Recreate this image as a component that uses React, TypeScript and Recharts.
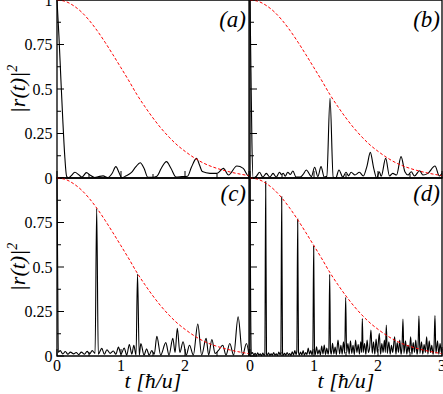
import React from "react";
import { LineChart, Line, XAxis, YAxis, ReferenceArea } from "recharts";

// time axis ticks (units of hbar/u) and |r(t)|^2 ticks
const T_TICKS = [0, 0.5, 1, 1.5, 2, 2.5, 3];
const R_TICKS = [0, 0.125, 0.25, 0.375, 0.5, 0.625, 0.75, 0.875, 1];
const R_TEXT: Record<string, string> = { "0": "0", "0.25": "0.25", "0.5": "0.5", "0.75": "0.75", "1": "1" };

// red dashed envelope
const ENV_T = [0, 0.125, 0.25, 0.375, 0.5, 0.625, 0.75, 0.875, 1, 1.125, 1.25, 1.375, 1.5,
  1.625, 1.75, 1.875, 2, 2.125, 2.25, 2.375, 2.5, 2.625, 2.75, 2.875, 3];
const ENV_R = [1, 0.993, 0.97, 0.935, 0.887, 0.829, 0.763, 0.692, 0.619, 0.545, 0.468, 0.4, 0.337,
  0.28, 0.23, 0.186, 0.15, 0.118, 0.091, 0.07, 0.054, 0.041, 0.03, 0.021, 0.013];

// [t, |r(t)|^2]
const PANEL_A: [number, number][] = [
  [0, 1], [0.03, 0.8], [0.06, 0.56], [0.09, 0.33], [0.12, 0.13], [0.15, 0.01], [0.18, 0], [0.22, 0.012],
  [0.28, 0.032], [0.34, 0.018], [0.39, 0.005], [0.46, 0.03], [0.52, 0.016], [0.59, 0.003], [0.65, 0.008],
  [0.72, 0.012], [0.79, 0.002], [0.86, 0.025], [0.92, 0.064], [0.97, 0.03], [1.01, 0.002], [1.08, 0.012],
  [1.16, 0.03], [1.23, 0.062], [1.3, 0.086], [1.36, 0.055], [1.42, 0.004], [1.5, 0.004], [1.56, 0.01],
  [1.63, 0.055], [1.71, 0.092], [1.78, 0.055], [1.86, 0.006], [1.95, 0.008], [2.04, 0.01], [2.1, 0.06],
  [2.18, 0.11], [2.23, 0.07], [2.27, 0.036], [2.39, 0.026], [2.5, 0.026], [2.6, 0.054], [2.68, 0.017],
  [2.81, 0.067], [2.91, 0.054], [2.99, 0.011], [3, 0.01],
];

const PANEL_B: [number, number][] = [
  [0, 1], [0.015, 0.6], [0.03, 0.2], [0.05, 0], [0.1, 0.01], [0.15, 0.032], [0.2, 0.005], [0.255, 0.026],
  [0.31, 0.005], [0.36, 0.026], [0.41, 0.005], [0.46, 0.032], [0.49, 0.02], [0.52, 0.026], [0.55, 0.01],
  [0.59, 0.032], [0.63, 0.02], [0.67, 0.039], [0.72, 0.005], [0.78, 0.005], [0.83, 0.02], [0.88, 0.045],
  [0.96, 0.008], [1.01, 0.06], [1.06, 0.008], [1.11, 0.064], [1.16, 0.005], [1.2, 0.01], [1.25, 0.448],
  [1.3, 0.005], [1.34, 0], [1.39, 0.045], [1.45, 0.005], [1.5, 0.032], [1.54, 0.012], [1.58, 0.032],
  [1.64, 0.017], [1.71, 0.032], [1.77, 0.011], [1.83, 0.07], [1.88, 0.144], [1.93, 0.06], [1.98, 0],
  [2.02, 0.035], [2.05, 0.01], [2.12, 0.11], [2.18, 0.011], [2.23, 0.026], [2.29, 0.017], [2.36, 0.12],
  [2.42, 0.035], [2.47, 0.017], [2.52, 0.035], [2.57, 0.011], [2.65, 0.041], [2.7, 0.017], [2.78, 0.026],
  [2.89, 0.067], [2.96, 0.011], [3, 0.026],
];

const PANEL_C: [number, number][] = [
  [0, 1], [0.01, 0.5], [0.02, 0.02], [0.05, 0.03], [0.09, 0.012], [0.13, 0.025], [0.17, 0.01], [0.21, 0.022],
  [0.26, 0.012], [0.3, 0.02], [0.34, 0.008], [0.38, 0.022], [0.43, 0.01], [0.47, 0.026], [0.51, 0.012],
  [0.55, 0.03], [0.595, 0.015], [0.62, 0.83], [0.645, 0.01], [0.7, 0.043], [0.74, 0.01], [0.78, 0.035],
  [0.83, 0.015], [0.88, 0.028], [0.92, 0.01], [0.96, 0.05], [1, 0.01], [1.05, 0.045], [1.09, 0.005],
  [1.13, 0.065], [1.17, 0.01], [1.2, 0.06], [1.235, 0.005], [1.258, 0.46], [1.285, 0.005], [1.31, 0.07],
  [1.36, 0.005], [1.4, 0.04], [1.44, 0.005], [1.48, 0.03], [1.52, 0.01], [1.56, 0.11], [1.62, 0.005],
  [1.7, 0.075], [1.75, 0.005], [1.81, 0.099], [1.845, 0.02], [1.88, 0.155], [1.92, 0.02], [1.97, 0.08],
  [2.02, 0.005], [2.07, 0.06], [2.13, 0.005], [2.2, 0.18], [2.26, 0.005], [2.33, 0.099], [2.37, 0.005],
  [2.42, 0.093], [2.47, 0.015], [2.52, 0.03], [2.59, 0.06], [2.64, 0.005], [2.7, 0.07], [2.76, 0.005],
  [2.83, 0.22], [2.9, 0.005], [2.96, 0.07], [3, 0.005],
];

const PANEL_D: [number, number][] = [
  [0, 1], [0.01, 0.3], [0.02, 0.01], [0.04, 0.02], [0.06, 0.004], [0.08, 0.015], [0.1, 0.003], [0.12, 0.018],
  [0.14, 0.005], [0.16, 0.012], [0.18, 0.002], [0.2, 0.016], [0.22, 0.004], [0.232, 0.01], [0.245, 0.98],
  [0.258, 0.01], [0.27, 0.004], [0.29, 0.018], [0.31, 0.003], [0.33, 0.013], [0.35, 0.005], [0.37, 0.02],
  [0.39, 0.004], [0.41, 0.012], [0.43, 0.003], [0.45, 0.022], [0.47, 0.006], [0.482, 0.02], [0.495, 0.895],
  [0.508, 0.02], [0.52, 0.004], [0.54, 0.015], [0.56, 0.004], [0.58, 0.02], [0.6, 0.006], [0.62, 0.014],
  [0.64, 0.003], [0.66, 0.024], [0.68, 0.006], [0.7, 0.03], [0.72, 0.008], [0.732, 0.03], [0.745, 0.77],
  [0.758, 0.02], [0.77, 0.005], [0.79, 0.022], [0.81, 0.006], [0.83, 0.03], [0.85, 0.004], [0.87, 0.02],
  [0.89, 0.008], [0.91, 0.045], [0.93, 0.01], [0.95, 0.03], [0.97, 0.006], [0.982, 0.04], [0.995, 0.618],
  [1.008, 0.03], [1.02, 0.008], [1.04, 0.052], [1.06, 0.01], [1.08, 0.035], [1.1, 0.006], [1.12, 0.056],
  [1.14, 0.012], [1.16, 0.062], [1.18, 0.008], [1.2, 0.045], [1.22, 0.01], [1.232, 0.04], [1.245, 0.459],
  [1.258, 0.03], [1.27, 0.01], [1.29, 0.071], [1.31, 0.012], [1.33, 0.05], [1.35, 0.008], [1.375, 0.09],
  [1.4, 0.012], [1.42, 0.06], [1.44, 0.01], [1.46, 0.08], [1.48, 0.015], [1.495, 0.33], [1.51, 0.02],
  [1.53, 0.07], [1.55, 0.01], [1.57, 0.085], [1.59, 0.015], [1.61, 0.06], [1.63, 0.008], [1.65, 0.09],
  [1.67, 0.02], [1.69, 0.065], [1.71, 0.01], [1.73, 0.08], [1.745, 0.02], [1.755, 0.21], [1.768, 0.02],
  [1.79, 0.07], [1.81, 0.01], [1.83, 0.09], [1.85, 0.02], [1.87, 0.05], [1.89, 0.146], [1.91, 0.015],
  [1.93, 0.08], [1.95, 0.01], [1.97, 0.095], [1.99, 0.02], [2.02, 0.127], [2.04, 0.01], [2.06, 0.07],
  [2.08, 0.02], [2.1, 0.09], [2.115, 0.02], [2.13, 0.174], [2.145, 0.015], [2.17, 0.08], [2.19, 0.01],
  [2.21, 0.06], [2.23, 0.02], [2.26, 0.108], [2.28, 0.01], [2.3, 0.075], [2.32, 0.02], [2.34, 0.09],
  [2.36, 0.01], [2.375, 0.05], [2.39, 0.208], [2.405, 0.015], [2.43, 0.085], [2.45, 0.01], [2.47, 0.06],
  [2.49, 0.02], [2.51, 0.108], [2.53, 0.01], [2.55, 0.075], [2.57, 0.02], [2.59, 0.09], [2.61, 0.01],
  [2.625, 0.05], [2.64, 0.225], [2.655, 0.015], [2.68, 0.08], [2.7, 0.01], [2.72, 0.065], [2.74, 0.02],
  [2.76, 0.108], [2.78, 0.01], [2.8, 0.085], [2.82, 0.02], [2.84, 0.06], [2.86, 0.01], [2.875, 0.05],
  [2.89, 0.227], [2.905, 0.015], [2.93, 0.085], [2.95, 0.01], [2.97, 0.07], [2.99, 0.02], [3, 0.05],
];

const W = 443;
const H = 394;
const PW = 192; // plot width
const PH = 178; // plot height
const FONT = "'Liberation Serif', 'Times New Roman', Times, serif";

const envelope = ENV_T.map((t, i) => ({ t, r: ENV_R[i] }));

function makeXTick(labels: number[]) {
  return (p: any) => {
    const v = p.payload.value as number;
    const len = Number.isInteger(v) ? 7 : 4;
    return (
      <g>
        <line x1={p.x} x2={p.x} y1={p.y} y2={p.y - len} stroke="#000" strokeWidth={1} />
        {labels.includes(v) && (
          <text x={p.x} y={p.y + 15} textAnchor="middle" style={{ fontFamily: FONT, fontSize: 16 }} fill="#000">
            {v}
          </text>
        )}
      </g>
    );
  };
}

function makeYTick(labels: number[]) {
  return (p: any) => {
    const v = p.payload.value as number;
    const major = R_TEXT[String(v)] !== undefined;
    return (
      <g>
        <line x1={p.x} x2={p.x + (major ? 7 : 4)} y1={p.y} y2={p.y} stroke="#000" strokeWidth={1} />
        {major && labels.includes(v) && (
          <text x={p.x - 4.5} y={p.y + 5.5} textAnchor="end" style={{ fontFamily: FONT, fontSize: 16 }} fill="#000">
            {R_TEXT[String(v)]}
          </text>
        )}
      </g>
    );
  };
}

function Panel({ data, left, top, xLabels, yLabels }: {
  data: [number, number][];
  left: number;
  top: number;
  xLabels: number[];
  yLabels: number[];
}) {
  const rows = data.map(([t, r]) => ({ t, r }));
  return (
    <div style={{ position: "absolute", left: 0, top: 0 }}>
      <LineChart
        width={W}
        height={H}
        margin={{ top, left: left - 57, right: W - left - PW, bottom: H - top - PH - 38 }}
      >
        <XAxis
          dataKey="t"
          type="number"
          domain={[0, 3]}
          ticks={T_TICKS}
          interval={0}
          height={38}
          tickSize={0}
          tickMargin={0}
          tickLine={false}
          axisLine={false}
          tick={makeXTick(xLabels)}
        />
        <YAxis
          type="number"
          domain={[0, 1]}
          ticks={R_TICKS}
          interval={0}
          width={57}
          tickSize={0}
          tickMargin={0}
          tickLine={false}
          axisLine={false}
          tick={makeYTick(yLabels)}
        />
        <Line
          data={rows}
          dataKey="r"
          type="monotone"
          stroke="#000"
          strokeWidth={1.1}
          dot={false}
          isAnimationActive={false}
        />
        <Line
          data={envelope}
          dataKey="r"
          type="monotone"
          stroke="#ff0000"
          strokeWidth={1}
          strokeDasharray="3 2"
          dot={false}
          isAnimationActive={false}
        />
        <ReferenceArea x1={0} x2={3} y1={0} y2={1} fill="none" stroke="#000" strokeWidth={1.3} />
      </LineChart>
    </div>
  );
}

export default function App() {
  return (
    <div style={{ position: "absolute", left: 0, top: 0, width: W, height: H, background: "#fff", overflow: "hidden" }}>
      <Panel data={PANEL_A} left={57} top={0} xLabels={[]} yLabels={[0, 0.25, 0.5, 0.75, 1]} />
      <Panel data={PANEL_B} left={250} top={0} xLabels={[]} yLabels={[]} />
      <Panel data={PANEL_C} left={57} top={178} xLabels={[0, 1, 2]} yLabels={[0, 0.25, 0.5, 0.75]} />
      <Panel data={PANEL_D} left={250} top={178} xLabels={[0, 1, 2, 3]} yLabels={[]} />
      <svg width={W} height={H} style={{ position: "absolute", left: 0, top: 0, pointerEvents: "none" }}>
        <g style={{ fontFamily: FONT, fontStyle: "italic", fontSize: 23 }} fill="#000">
          <text x={246} y={27} textAnchor="end">(a)</text>
          <text x={440} y={27} textAnchor="end">(b)</text>
          <text x={246} y={201} textAnchor="end">(c)</text>
          <text x={440} y={201} textAnchor="end">(d)</text>
        </g>
        <g style={{ fontFamily: FONT, fontStyle: "italic", fontSize: 22 }} fill="#000">
          <text transform="translate(25,89) rotate(-90)" textAnchor="middle">
            |r(t)|<tspan style={{ fontSize: 14 }} dy={-8}>2</tspan>
          </text>
          <text transform="translate(25,267) rotate(-90)" textAnchor="middle">
            |r(t)|<tspan style={{ fontSize: 14 }} dy={-8}>2</tspan>
          </text>
          <text x={153} y={388} textAnchor="middle">t [ħ/u]</text>
          <text x={346} y={388} textAnchor="middle">t [ħ/u]</text>
        </g>
      </svg>
    </div>
  );
}
